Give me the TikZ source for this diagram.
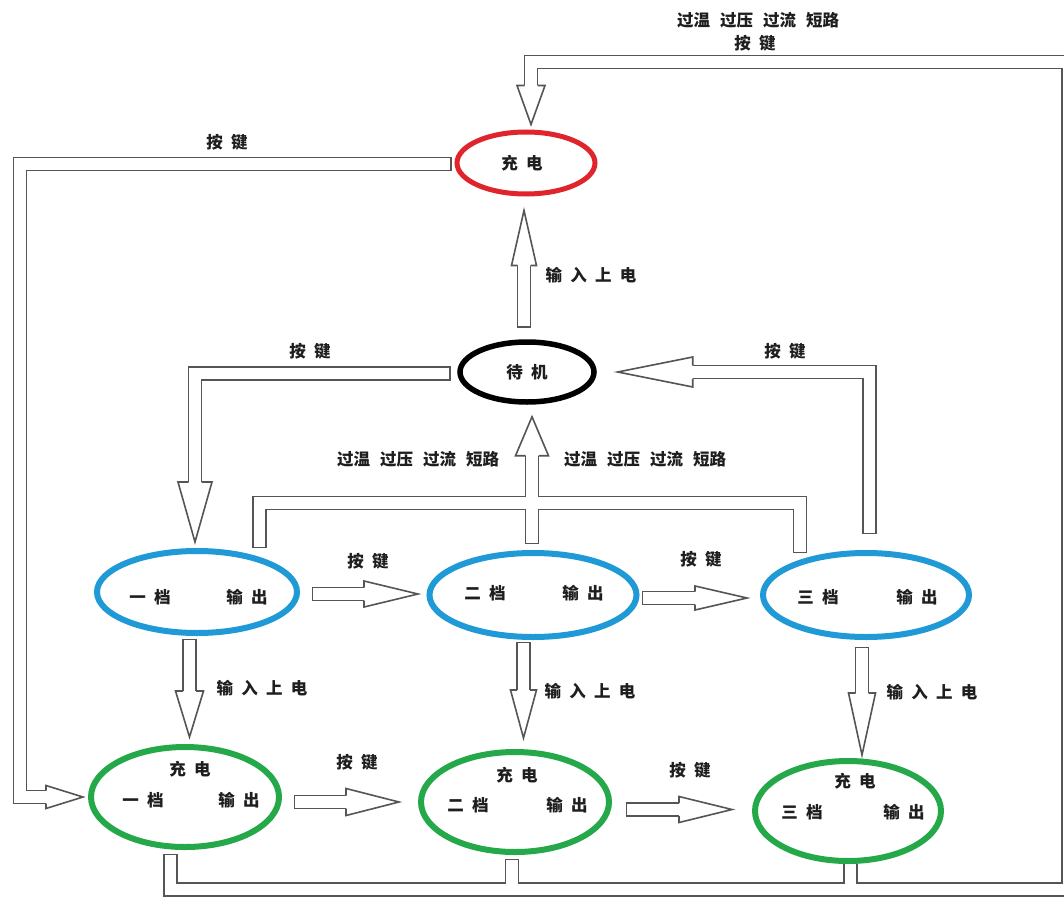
\documentclass[tikz,border=0pt]{standalone}
\usepackage{fontspec}
\usetikzlibrary{calc,shapes.geometric}
\newfontfamily\cjk{Noto Sans CJK SC}
\newfontfamily\cjksp[LetterSpace=50]{Noto Sans CJK SC}
\newcommand\ws{\hspace{10pt}}

\definecolor{pipegray}{HTML}{555555}
\definecolor{chgred}{HTML}{E0242C}
\definecolor{outblue}{HTML}{1F9AD6}
\definecolor{mixgreen}{HTML}{25A84A}
\definecolor{inkgray}{HTML}{1E1E1E}

\pgfdeclarelayer{fg}
\pgfsetlayers{main,fg}

\tikzset{
  state/.style={ellipse, draw, inner sep=0pt},
  charging/.style={state, draw=chgred, line width=5pt},
  standby/.style={state, draw=black, line width=5.5pt},
  gear/.style={state, draw=outblue, line width=6pt},
  chggear/.style={state, draw=mixgreen, line width=6pt},
  lbl/.style={font=\cjksp\bfseries\fontsize{16.5}{19}\selectfont, text=inkgray, inner sep=0pt},
  lblw/.style={font=\cjk\bfseries\fontsize{16.5}{19}\selectfont, text=inkgray, inner sep=0pt},
  pipeout/.style={draw=pipegray, line width=14.6pt, line join=miter, line cap=rect},
  pipein/.style={draw=white, line width=11.4pt, line join=miter, line cap=rect},
  headline/.style={draw=pipegray, line width=1.6pt, line join=miter},
}

% hollow shaft: dark outline first, white core second, so junctions merge
\newcommand\pipe[1]{\path[pipeout] #1; \path[pipein] #1;}
% open block head: #1 base, #2 tip, #3 half width
\newcommand\blockhead[3]{%
  \fill[white] ($(#1)!#3!90:(#2)$) -- (#2) -- ($(#1)!#3!-90:(#2)$) -- cycle;
  \draw[headline] ($(#1)!6.5pt!90:(#2)$) -- ($(#1)!#3!90:(#2)$) -- (#2)
    -- ($(#1)!#3!-90:(#2)$) -- ($(#1)!6.5pt!-90:(#2)$);
}

\begin{document}
\begin{tikzpicture}[x=1pt,y=-1pt]
\useasboundingbox (0,0) rectangle (1064,896);
\clip (0,0) rectangle (1064,896);
\fill[white] (0,0) rectangle (1064,896);

% states (outlines kept above the connectors)
\begin{pgfonlayer}{fg}
\path
  (526,163) node[charging, minimum width=138pt, minimum height=62pt] (chg) {}
  (527,372) node[standby,  minimum width=134pt, minimum height=60pt] (stb) {}
  (197,592) node[gear,     minimum width=200pt, minimum height=82pt] (b1) {}
  (533,595) node[gear,     minimum width=207pt, minimum height=84pt] (b2) {}
  (866,595) node[gear,     minimum width=206pt, minimum height=84pt] (b3) {}
  (185,797) node[chggear,  minimum width=188pt, minimum height=100pt] (g1) {}
  (515,802) node[chggear,  minimum width=188pt, minimum height=100pt] (g2) {}
  (848,811) node[chggear,  minimum width=186pt, minimum height=100pt] (g3) {};
\end{pgfonlayer}

% standby -> charging
\coordinate (a0) at ($(stb.north)+(-3,-19)$);
\coordinate (at) at ($(chg.south)+(-2,14)$);
\coordinate (ab) at ($(at)+(0,55)$);
% charging -> charging gear 1 (left loop)
\coordinate (b0) at ($(chg.west)+(-10,1)$);
\coordinate (bt) at ($(g1.west)+(-5,0)$);
\coordinate (bb) at ($(bt)+(-37,0)$);
\coordinate (bx) at (20,0);
% standby -> gear 1
\coordinate (c0) at ($(stb.west)+(-14,1.5)$);
\coordinate (ct) at ($(b1.north)+(-2,-6)$);
\coordinate (cb) at ($(ct)+(0,-60)$);
% gear 3 -> standby
\coordinate (d0) at ($(b3.north)+(3.5,-23)$);
\coordinate (dt) at ($(stb.east)+(21,0)$);
\coordinate (db) at ($(dt)+(75,0)$);
% faults: gears -> standby
\coordinate (e1) at ($(b1.north)+(62.5,-7)$);
\coordinate (e2) at ($(b2.north)+(-1,-13)$);
\coordinate (e3) at ($(b3.north)+(-66,-4)$);
\coordinate (ey) at (0,503);
\coordinate (et) at ($(stb.south)+(5,12)$);
\coordinate (eb) at ($(et)+(0,39)$);
% gear steps
\coordinate (f0) at ($(b1.east)+(19,2)$);
\coordinate (ft) at ($(b2.west)+(-8.5,-1)$);
\coordinate (fb) at ($(ft)+(-54,0)$);
\coordinate (h0) at ($(b2.east)+(9.5,3)$);
\coordinate (ht) at ($(b3.west)+(-13,3)$);
\coordinate (hb) at ($(ht)+(-52,0)$);
% gears -> charging gears
\coordinate (p0) at ($(b1.south)+(-7.5,10)$);
\coordinate (pt) at ($(g1.north)+(4.5,-7)$);
\coordinate (pb) at ($(pt)+(0,-46)$);
\coordinate (q0) at ($(b2.south)+(-9.5,9)$);
\coordinate (qt) at ($(g2.north)+(8.5,-11)$);
\coordinate (qb) at ($(qt)+(0,-48)$);
\coordinate (r0) at ($(b3.south)+(-4,14)$);
\coordinate (rt) at ($(g3.north)+(14,-3)$);
\coordinate (rb) at ($(rt)+(0,-62)$);
% charging gear steps
\coordinate (k0) at ($(g1.east)+(19,5)$);
\coordinate (kt) at ($(g2.west)+(-19,0)$);
\coordinate (kb) at ($(kt)+(-53,0)$);
\coordinate (l0) at ($(g2.east)+(21,7.5)$);
\coordinate (lt) at ($(g3.west)+(-20,-1.5)$);
\coordinate (lb) at ($(lt)+(-53,0)$);
% faults / key: charging gears -> charging (outer loop)
\coordinate (m1) at ($(g1.south)+(-14.5,11)$);
\coordinate (m2) at ($(g2.south)+(-3,11)$);
\coordinate (m3) at ($(g3.south)+(2.5,6)$);
\coordinate (my) at (0,889.5);
\coordinate (mx) at (1068.5,0);
\coordinate (mtop) at (0,62);
\coordinate (mt) at ($(chg.north)+(5,-5)$);
\coordinate (mb) at ($(mt)+(0,-39)$);

% shafts
\pipe{(a0) -- (ab)}
\pipe{(b0) -- (b0 -| bx) -- (bb -| bx) -- (bb)}
\pipe{(c0) -- (c0 -| cb) -- (cb)}
\pipe{(d0) -- (d0 |- db) -- (db)}
\pipe{(e1) -- (e1 |- ey) -- (e3 |- ey) -- (e3) (e2) -- (eb)}
\pipe{(f0) -- (fb)}
\pipe{(h0) -- (hb)}
\pipe{(p0) -- (pb)}
\pipe{(q0) -- (qb)}
\pipe{(r0) -- (rb)}
\pipe{(k0) -- (kb)}
\pipe{(l0) -- (lb)}
\pipe{(m1) -- (m1 |- my) -- (mx |- my) -- (mx |- mtop) -- (mb |- mtop) -- (mb)
      (m2) -- (m2 |- my) (m3) -- (m3 |- my)}

% heads
\blockhead{ab}{at}{12.5pt}
\blockhead{bb}{bt}{11.5pt}
\blockhead{cb}{ct}{17pt}
\blockhead{db}{dt}{15pt}
\blockhead{eb}{et}{16.5pt}
\blockhead{fb}{ft}{13pt}
\blockhead{hb}{ht}{12pt}
\blockhead{pb}{pt}{14pt}
\blockhead{qb}{qt}{13pt}
\blockhead{rb}{rt}{13.5pt}
\blockhead{kb}{kt}{13.5pt}
\blockhead{lb}{lt}{13pt}
\blockhead{mb}{mt}{14pt}

% state texts
\node[lbl] (chgT) at ($(chg)+(-4,0)$) {充电};
\node[lbl] (stbT) at (stb) {待机};
\node[lbl] (b1L) at ($(b1)+(-47,5)$) {一档};
\node[lbl] (b1R) at ($(b1)+(50,5)$) {输出};
\node[lbl] (b2L) at ($(b2)+(-48,-2)$) {二档};
\node[lbl] (b2R) at ($(b2)+(50,-2)$) {输出};
\node[lbl] (b3L) at ($(b3)+(-48,2)$) {三档};
\node[lbl] (b3R) at ($(b3)+(51,2)$) {输出};
\node[lbl] (g1T) at ($(g1)+(5,-28)$) {充电};
\node[lbl] (g1L) at ($(g1)+(-42,3)$) {一档};
\node[lbl] (g1R) at ($(g1)+(54,3)$) {输出};
\node[lbl] (g2T) at ($(g2)+(2,-27)$) {充电};
\node[lbl] (g2L) at ($(g2)+(-47,3)$) {二档};
\node[lbl] (g2R) at ($(g2)+(52,3)$) {输出};
\node[lbl] (g3T) at ($(g3)+(7,-30)$) {充电};
\node[lbl] (g3L) at ($(g3)+(-46,1)$) {三档};
\node[lbl] (g3R) at ($(g3)+(56,1)$) {输出};

% transition labels
\node[lblw] (n1) at (758,20) {过温\ws 过压\ws 过流\ws 短路};
\node[lbl] (n2) at (755,43) {按键};
\node[lbl] (n3) at (227,142) {按键};
\node[lbl] (n4) at (591,275) {输入上电};
\node[lbl] (n5) at (310,351) {按键};
\node[lbl] (n6) at (785,351) {按键};
\node[lblw] (n7) at (418,459) {过温\ws 过压\ws 过流\ws 短路};
\node[lblw] (n8) at (645,459) {过温\ws 过压\ws 过流\ws 短路};
\node[lbl] (n9) at (368,561) {按键};
\node[lbl] (n10) at (701,559) {按键};
\node[lbl] (n11) at (262,688) {输入上电};
\node[lbl] (n12) at (590,691) {输入上电};
\node[lbl] (n13) at (932,692) {输入上电};
\node[lbl] (n14) at (357,762) {按键};
\node[lbl] (n15) at (690,770) {按键};
\end{tikzpicture}
\end{document}
